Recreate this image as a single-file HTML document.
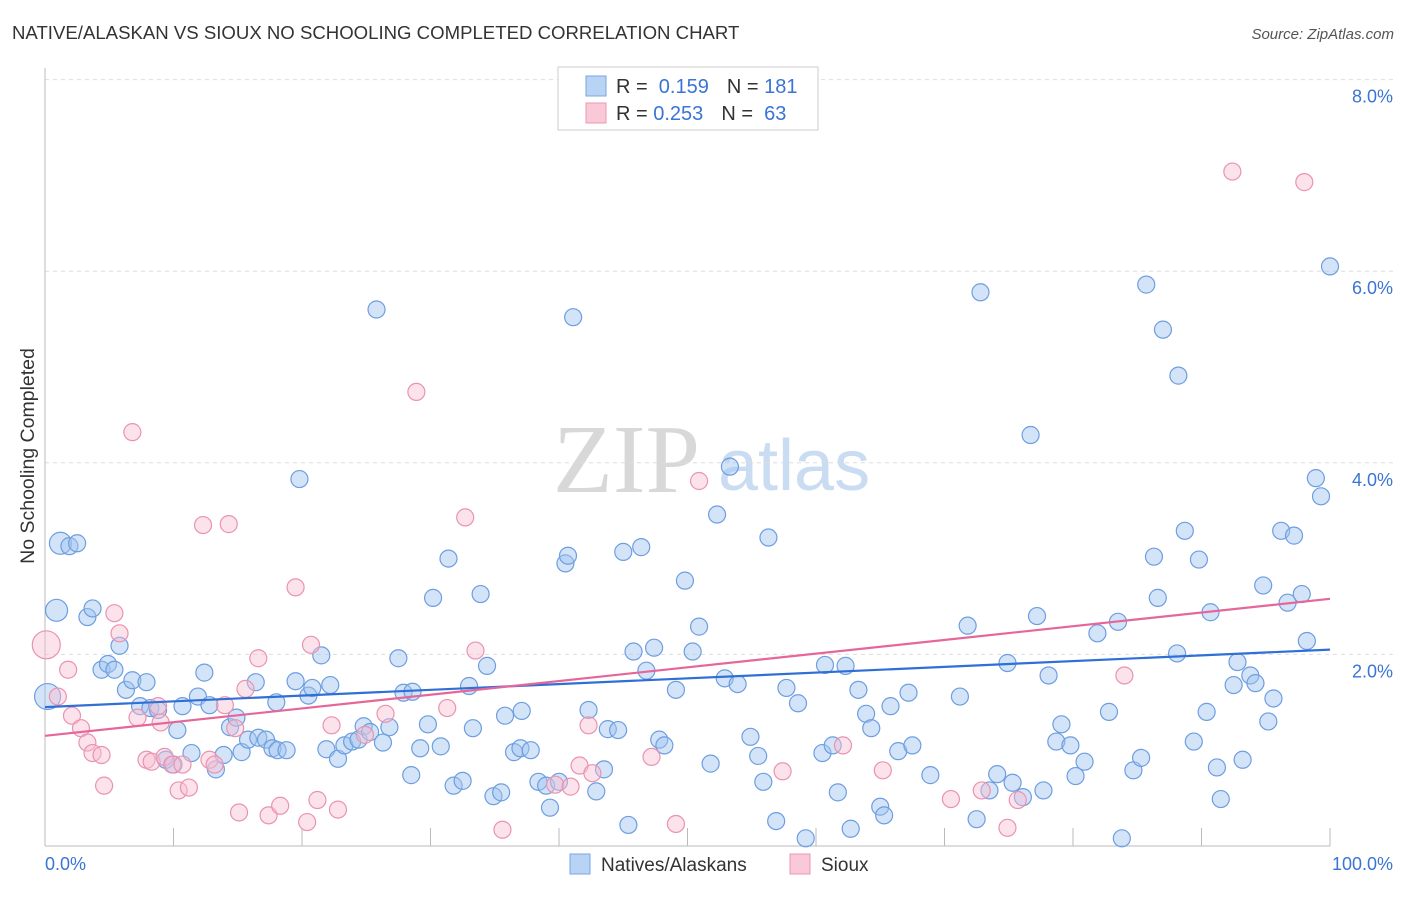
<!DOCTYPE html>
<html><head><meta charset="utf-8"><style>
body{margin:0;background:#fff;font-family:"Liberation Sans",sans-serif;}
#c{position:relative;width:1406px;height:892px;}
</style></head><body>
<div id="c">
<svg id="s" width="1406" height="892">
<text x="12" y="39" font-size="18.6" fill="#333">NATIVE/ALASKAN VS SIOUX NO SCHOOLING COMPLETED CORRELATION CHART</text>
<text x="1394" y="39" font-size="15" fill="#555" font-style="italic" text-anchor="end">Source: ZipAtlas.com</text>
<text transform="translate(34,456) rotate(-90)" font-size="19.5" fill="#333" text-anchor="middle">No Schooling Completed</text>
<g>
<text x="553" y="492" font-size="98" font-family="Liberation Serif" fill="#d8d8d8">ZIP</text>
<text x="718" y="490" font-size="72" fill="#c9dcf2">atlas</text>
</g>
<g id="grid"></g><g id="axes"></g><g id="pts"></g><g id="trend"></g>
<g>
<rect x="558" y="67" width="260" height="63" fill="#fff" stroke="#ccc"/>
<rect x="586" y="76" width="20" height="20" fill="#b9d3f5" stroke="#7aa5e0"/>
<rect x="586" y="103" width="20" height="20" fill="#f9c9d8" stroke="#ec98b4"/>
<text x="616" y="93" font-size="20" fill="#333">R = <tspan fill="#3a74d4">&#160;0.159</tspan><tspan dx="18" fill="#333">N =</tspan><tspan fill="#3a74d4"> 181</tspan></text>
<text x="616" y="120" font-size="20" fill="#333">R = <tspan fill="#3a74d4">0.253</tspan><tspan dx="18" fill="#333">N =</tspan><tspan fill="#3a74d4">&#160;&#160;63</tspan></text>
</g>
<g>
<rect x="570" y="854" width="20" height="20" fill="#b9d3f5" stroke="#7aa5e0"/>
<text x="601" y="871" font-size="19" fill="#333">Natives/Alaskans</text>
<rect x="790" y="854" width="20" height="20" fill="#f9c9d8" stroke="#ec98b4"/>
<text x="821" y="871" font-size="19" fill="#333">Sioux</text>
</g>
</svg>
</div>
<script>
const blueX=[0.2,1.2,0.9,1.9,2.5,3.3,3.7,4.4,4.9,5.4,5.8,6.3,6.8,7.4,7.9,8.2,8.8,9.4,10.0,10.3,10.7,11.4,11.9,12.4,12.8,13.3,13.9,14.4,14.9,15.3,15.8,16.4,16.6,17.2,17.7,18.1,18.8,18.0,19.5,19.8,20.5,20.8,21.5,21.9,22.2,22.8,23.3,23.9,24.4,24.8,25.3,25.8,26.3,26.8,27.5,27.9,28.5,28.6,29.2,29.8,30.2,30.8,31.4,31.8,32.5,33.0,33.3,33.9,34.4,34.9,35.5,35.8,36.5,37.0,37.1,37.8,38.4,39.0,39.3,40.0,40.5,40.7,41.1,42.3,42.9,43.5,43.8,44.6,45.0,45.4,45.8,46.4,46.8,47.4,47.8,48.2,49.1,49.8,50.4,50.9,51.8,52.3,52.9,53.3,53.9,54.9,55.5,55.9,56.3,56.9,57.7,58.6,59.2,60.5,60.7,61.3,61.7,62.3,62.7,63.3,63.9,64.3,65.0,65.3,65.8,66.4,67.2,67.5,68.9,71.2,71.8,72.8,72.5,73.5,74.1,74.9,75.3,76.1,76.7,77.2,77.7,78.1,78.7,79.1,79.8,80.2,80.9,81.9,82.8,83.5,83.8,84.7,85.3,85.7,86.3,86.6,87.0,88.2,88.1,88.7,89.4,89.8,90.4,90.7,91.2,91.5,92.5,92.8,93.2,93.8,94.2,94.8,95.2,95.6,96.2,96.7,97.2,97.8,98.2,98.9,99.3,100.0];
const blueY=[1.56,3.16,2.46,3.13,3.16,2.39,2.48,1.84,1.90,1.84,2.09,1.63,1.73,1.46,1.71,1.44,1.42,0.90,0.85,1.21,1.46,0.97,1.56,1.81,1.47,0.80,0.95,1.24,1.34,0.98,1.11,1.71,1.13,1.11,1.02,1.00,1.00,1.50,1.72,3.83,1.57,1.65,1.99,1.01,1.68,0.91,1.05,1.09,1.11,1.25,1.19,5.60,1.08,1.24,1.96,1.60,0.74,1.61,1.02,1.27,2.59,1.04,3.00,0.63,0.68,1.67,1.23,2.63,1.88,0.52,0.56,1.36,0.98,1.02,1.41,1.00,0.67,0.63,0.40,0.67,2.95,3.03,5.52,1.42,0.57,0.80,1.22,1.21,3.07,0.22,2.03,3.12,1.83,2.07,1.11,1.05,1.63,2.77,2.03,2.29,0.86,3.46,1.75,3.96,1.69,1.14,0.94,0.67,3.22,0.26,1.65,1.49,0.08,0.97,1.89,1.05,0.56,1.88,0.18,1.63,1.38,1.23,0.41,0.32,1.46,0.99,1.60,1.05,0.74,1.56,2.30,5.78,0.28,0.58,0.75,1.91,0.66,0.51,4.29,2.40,0.58,1.78,1.09,1.27,1.05,0.73,0.88,2.22,1.40,2.34,0.08,0.79,0.92,5.86,3.02,2.59,5.39,4.91,2.01,3.29,1.09,2.99,1.40,2.44,0.82,0.49,1.68,1.92,0.90,1.78,1.70,2.72,1.30,1.54,3.29,2.54,3.24,2.63,2.14,3.84,3.65,6.05];
const pinkX=[0.1,1.0,1.8,2.1,2.8,3.3,3.7,4.4,4.6,5.4,5.8,6.8,7.2,7.9,8.3,8.8,9.0,9.3,9.9,10.4,10.7,11.2,12.3,12.8,13.2,14.0,14.3,14.8,15.1,15.6,16.6,17.4,18.3,19.5,20.4,20.7,21.2,22.3,22.8,24.9,26.5,28.9,31.3,32.7,33.5,35.6,39.7,40.9,41.6,42.3,42.6,47.2,49.1,50.9,57.4,62.1,65.2,70.5,72.9,74.9,75.7,84.0,92.4,98.0];
const pinkY=[2.10,1.56,1.84,1.36,1.23,1.08,0.97,0.95,0.63,2.43,2.22,4.32,1.34,0.90,0.88,1.46,1.29,0.93,0.85,0.58,0.85,0.61,3.35,0.90,0.85,1.47,3.36,1.23,0.35,1.64,1.96,0.32,0.42,2.70,0.25,2.10,0.48,1.26,0.38,1.16,1.38,4.74,1.44,3.43,2.04,0.17,0.64,0.62,0.84,1.26,0.76,0.93,0.23,3.81,0.78,1.05,0.79,0.49,0.58,0.19,0.48,1.78,7.04,6.93];
const blueTrend=[1.45,2.05];
const pinkTrend=[1.15,2.58];
const yTicks=[2,4,6,8];
const yTickLabels=["2.0%","4.0%","6.0%","8.0%"];
const xTicks=[0,10,20,30,40,50,60,70,80,90,100];

const NS="http://www.w3.org/2000/svg";
const X=v=>45+v*12.85;
const Y=v=>846-v*95.8;
function mk(tag,attrs,parent){const e=document.createElementNS(NS,tag);for(const k in attrs)e.setAttribute(k,attrs[k]);document.getElementById(parent).appendChild(e);return e;}

yTicks.forEach((t,i)=>{
 const l=mk('line',{x1:45,x2:1395,y1:Y(t),y2:Y(t),stroke:'#ddd','stroke-dasharray':'4,4'},'grid');
 
 
 const tx=mk('text',{x:1393,y:Y(t)+23,'font-size':18,fill:'#3a74d4','text-anchor':'end'},'grid');
 tx.textContent=yTickLabels[i];
 
 
});
const ax=mk('line',{x1:45,x2:1330,y1:846,y2:846,stroke:'#bbb'},'axes');


const ay=mk('line',{x1:45,x2:45,y1:68,y2:846,stroke:'#bbb'},'axes');


xTicks.forEach(t=>{
 const l=mk('line',{x1:X(t),x2:X(t),y1:828,y2:846,stroke:'#bbb'},'axes');
 
 
});
const x0=mk('text',{x:45,y:870,'font-size':18,fill:'#3a74d4'},'axes');x0.textContent='0.0%';


const x1=mk('text',{x:1393,y:870,'font-size':18,fill:'#3a74d4','text-anchor':'end'},'axes');x1.textContent='100.0%';



blueX.forEach((v,i)=>{
 const r=i<3?(i==0?13:11):8.5;
 const c=mk('circle',{cx:X(v),cy:Y(blueY[i]),r:r,fill:'rgba(160,195,240,0.45)',stroke:'#6d9ee0','stroke-width':1.2},'pts');
 
 
});
pinkX.forEach((v,i)=>{
 const r=i==0?14:8.5;
 const c=mk('circle',{cx:X(v),cy:Y(pinkY[i]),r:r,fill:'rgba(248,190,210,0.45)',stroke:'#ea93b1','stroke-width':1.2},'pts');
 
 
});
const tb=mk('line',{x1:X(0),x2:X(100),y1:Y(blueTrend[0]),y2:Y(blueTrend[1]),stroke:'#2f6fd6','stroke-width':2.2},'trend');


const tp=mk('line',{x1:X(0),x2:X(100),y1:Y(pinkTrend[0]),y2:Y(pinkTrend[1]),stroke:'#e5679a','stroke-width':2.2},'trend');


</script>
</body></html>
